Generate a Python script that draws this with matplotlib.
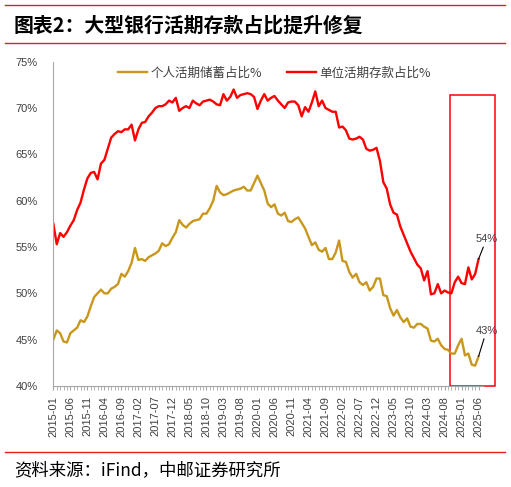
import pandas as pd
import matplotlib
matplotlib.use("Agg")
import matplotlib.pyplot as plt
from matplotlib.patches import Rectangle
from matplotlib.lines import Line2D

plt.rcParams['font.family'] = ['Liberation Sans', 'Noto Sans CJK SC', 'DejaVu Sans']

# monthly data, 2015-01 .. 2025-06
months = pd.date_range("2015-01-01", "2025-06-01", freq="MS").strftime("%Y-%m").tolist()

personal = [
    45.0, 46.0, 45.7, 44.8, 44.7, 45.7, 46.0, 46.3, 47.1, 46.9,
    47.5, 48.6, 49.6, 50.0, 50.4, 50.0, 50.0, 50.5, 50.7, 51.0,
    52.1, 51.8, 52.4, 53.3, 54.9, 53.6, 53.7, 53.5, 53.9, 54.1,
    54.3, 54.6, 55.4, 55.1, 55.3, 56.0, 56.6, 57.9, 57.4, 57.1,
    57.5, 57.8, 57.9, 58.0, 58.6, 58.6, 59.2, 60.0, 61.6, 60.9,
    60.6, 60.7, 60.9, 61.1, 61.2, 61.3, 61.5, 61.1, 61.1, 61.9,
    62.7, 61.9, 61.1, 59.7, 59.3, 59.6, 58.6, 58.4, 58.7, 57.8,
    57.7, 58.0, 58.2, 57.6, 57.0, 56.1, 55.2, 55.5, 54.7, 54.5,
    54.9, 53.7, 53.7, 54.4, 55.7, 53.5, 53.4, 52.3, 51.7, 52.1,
    51.2, 50.9, 51.2, 50.3, 50.7, 51.6, 51.6, 49.8, 49.7, 48.4,
    47.6, 48.2, 47.4, 46.9, 47.3, 46.4, 46.3, 46.7, 46.7, 46.4,
    46.2, 44.9, 44.8, 45.1, 44.4, 44.0, 43.9, 43.5, 43.5, 44.4,
    45.1, 43.3, 43.5, 42.3, 42.2, 43.2,
]

corporate = [
    57.5, 55.3, 56.5, 56.1, 56.6, 57.3, 57.9, 59.0, 59.8, 61.2,
    62.4, 63.0, 63.1, 62.3, 64.0, 64.4, 65.6, 66.8, 67.2, 67.5,
    67.4, 67.7, 67.7, 68.2, 66.5, 67.7, 68.4, 68.5, 69.1, 69.5,
    70.0, 70.2, 70.2, 70.4, 70.8, 70.6, 71.1, 69.7, 70.0, 70.2,
    70.0, 70.8, 70.5, 70.3, 70.7, 70.8, 70.9, 70.7, 70.4, 70.3,
    71.5, 70.8, 71.2, 72.0, 71.1, 71.4, 71.5, 71.6, 71.5, 71.2,
    69.9, 70.8, 71.5, 70.8, 71.1, 71.3, 70.8, 70.4, 70.0, 70.6,
    70.7, 70.7, 70.3, 69.1, 70.1, 69.6, 70.6, 71.8, 70.2, 70.8,
    70.0, 69.8, 69.6, 69.6, 67.9, 68.0, 67.6, 66.7, 66.6, 66.7,
    66.9, 66.6, 65.6, 65.4, 65.5, 65.7, 64.3, 62.0, 61.3, 59.6,
    58.7, 58.5, 57.2, 56.3, 55.4, 54.5, 53.8, 53.1, 52.7, 51.4,
    52.4, 49.9, 50.0, 51.0, 50.0, 50.3, 50.1, 50.0, 51.2, 51.8,
    51.1, 51.0, 52.8, 51.5, 52.1, 53.7,
]

assert len(personal) == len(months) == len(corporate)

yticks = [40, 45, 50, 55, 60, 65, 70, 75]
label_personal = "个人活期储蓄占比%"
label_corporate = "单位活期存款占比%"
title = "图表2：大型银行活期存款占比提升修复"
source = "资料来源：iFind，中邮证券研究所"

W, H = 511, 487
fig = plt.figure(figsize=(W / 100, H / 100), dpi=100)

# axes box in pixels: left 53, right 483, top 61.7, bottom 386
ax = fig.add_axes([53 / W, 1 - 386 / H, 430 / W, (386 - 61.7) / H])

x = list(range(len(months)))
gold = "#C9971C"
ax.plot(x, personal, color=gold, lw=1.7, label=label_personal)
ax.plot(x, corporate, color="#FF0000", lw=1.7, label=label_corporate)

ax.set_xlim(-0.1, 126.3)
ax.set_ylim(40, 75)
ax.set_yticks(yticks)
ax.set_yticklabels([f"{v}%" for v in yticks])
ax.tick_params(axis="y", length=0, labelsize=8, labelcolor="#404040", pad=11)

ax.set_xticks(x, minor=True)
ax.set_xticks(x[::5])
ax.set_xticklabels(months[::5], rotation=90)
ax.tick_params(axis="x", which="both", length=3, color="#A6A6A6", labelsize=8,
               labelcolor="#404040", pad=4)

for side in ["top", "right"]:
    ax.spines[side].set_visible(False)
for side in ["left", "bottom"]:
    ax.spines[side].set_color("#A6A6A6")
    ax.spines[side].set_linewidth(0.8)

# highlight box around the latest months
ax.add_patch(Rectangle((116.6, 40), 13.3, 31.4, fill=False, edgecolor="#FF0000",
                       lw=1.1, clip_on=False))

# end-of-line labels
last = len(months) - 1
ax.annotate("54%", xy=(last, corporate[-1]), xytext=(last + 2.3, corporate[-1] + 1.6),
            fontsize=8, color="#404040", ha="center", va="bottom",
            arrowprops=dict(arrowstyle="-", color="black", lw=0.8, shrinkA=0, shrinkB=0))
ax.annotate("43%", xy=(last, personal[-1]), xytext=(last + 2.3, personal[-1] + 2.2),
            fontsize=8, color="#404040", ha="center", va="bottom",
            arrowprops=dict(arrowstyle="-", color="black", lw=0.8, shrinkA=0, shrinkB=0))

leg = ax.legend(loc="center", bbox_to_anchor=(0.515, 0.965), ncol=2, frameon=False,
                handlelength=2.3, columnspacing=2.0, handletextpad=0.3,
                prop={"family": ["Noto Sans CJK SC", "DejaVu Sans"], "size": 9})
for t in leg.get_texts():
    t.set_color("#404040")

# header / footer
red = "#E02020"
fig.add_artist(Line2D([5 / W, 505 / W], [1 - 5 / H, 1 - 5 / H], color=red, lw=1.0))
fig.add_artist(Line2D([5 / W, 505 / W], [1 - 43 / H, 1 - 43 / H], color=red, lw=1.0))
fig.add_artist(Line2D([5 / W, 505 / W], [1 - 452 / H, 1 - 452 / H], color=red, lw=1.0))
fig.text(14 / W, 1 - 25 / H, title, fontsize=14.3, fontweight="bold", color="black",
         va="center", ha="left", family=["Noto Sans CJK SC", "DejaVu Sans"])
fig.text(14 / W, 1 - 470 / H, source, fontsize=12.5, color="black",
         va="center", ha="left", family=["Noto Sans CJK SC", "DejaVu Sans"])

fig.savefig("out.png", dpi=100)
